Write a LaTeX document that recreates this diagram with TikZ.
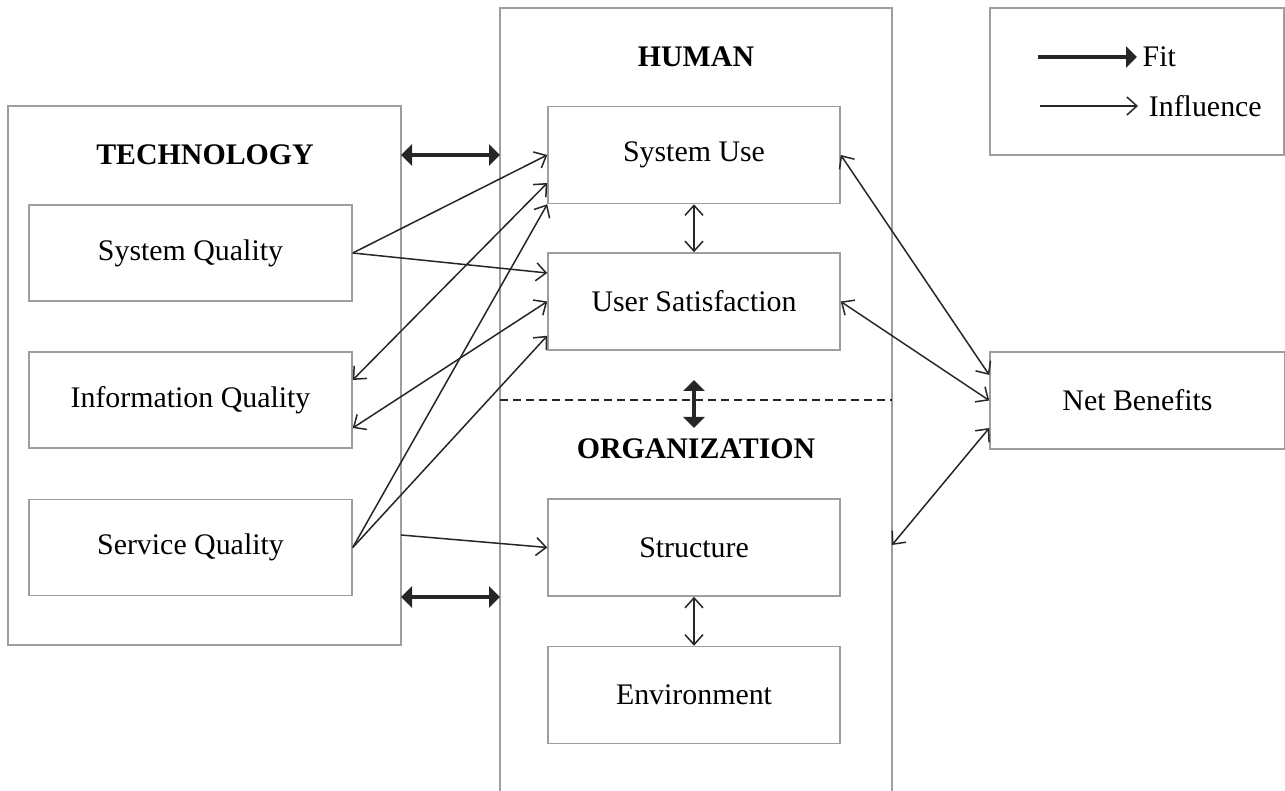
\documentclass[tikz,border=0pt]{standalone}
\usepackage{fontspec}
\setmainfont{Liberation Serif}
\usetikzlibrary{arrows.meta}

\definecolor{boxgray}{gray}{0.62}
\definecolor{ink}{gray}{0.15}

\begin{document}
\begin{tikzpicture}[x=0.2mm, y=-0.2mm,
    every node/.style={font=\fontsize{17}{20}\selectfont},
    frame/.style={draw=boxgray, line width=0.3mm},
    tbox/.style={frame, minimum width=64.6mm, minimum height=19.2mm},
    hbox/.style={frame, minimum width=58.4mm, minimum height=19.4mm},
    head/.style={font=\fontsize{17}{20}\selectfont\bfseries},
    infl/.style={draw=ink, line width=0.3mm, >={Straight Barb[length=2mm,width=3.6mm]}},
    fitline/.style={draw=ink, line width=0.75mm, >={Triangle[length=2.2mm,width=4.2mm]}}]
    \useasboundingbox (0, 0) rectangle (1285, 791);

    % technology
    \draw [frame] (8, 106) rectangle (401, 645);
    \node [head] (tech) at (205, 155) {TECHNOLOGY};
    \node [tbox] (sysq) at (190.5, 253) {System Quality};
    \node [tbox] (infq) at (190.5, 400) {Information Quality};
    \node [tbox] (servq) at (190.5, 547.5) {Service Quality};

    % human / organization
    \draw [frame] (500, 800) -- (500, 8) -- (892, 8) -- (892, 800);
    \node [head] (human) at (696, 57) {HUMAN};
    \node [hbox] (use) at (694, 155) {System Use};
    \node [hbox] (sat) at (694, 301.5) {User Satisfaction};
    \draw [ink, line width=0.4mm, dash pattern=on 1.6mm off 1mm] (500, 400) -- (892, 400);
    \node [head] (org) at (696, 449) {ORGANIZATION};
    \node [hbox] (struct) at (694, 547.5) {Structure};
    \node [hbox] (env) at (694, 695) {Environment};

    % net benefits
    \node [frame, minimum width=59mm, minimum height=19.4mm] (net) at (1137.5, 400.5) {Net Benefits};

    % legend
    \draw [frame] (990, 8) rectangle (1284, 155);
    \coordinate (fitA) at (1038, 57);
    \coordinate (inflA) at (1040, 106);
    \node [anchor=west, inner xsep=3pt] (fitlbl) at (1137, 57) {Fit};
    \node [anchor=west, inner xsep=6pt] (infllbl) at (1138, 106) {Influence};
    \draw [fitline, ->] (fitA) -- (fitlbl.west);
    \draw [infl, ->] (inflA) -- (infllbl.west);

    % free ends on the outer frames
    \coordinate (techR1) at (401, 155);
    \coordinate (humL1) at (500, 155);
    \coordinate (techR2) at (401, 597);
    \coordinate (humL2) at (500, 597);
    \coordinate (techR3) at (401, 535);
    \coordinate (humR) at (892, 545);
    \coordinate (orgT) at (694, 380);
    \coordinate (orgB) at (694, 428);

    % influence
    \draw [infl, ->] (sysq.east) -- (use.west);
    \draw [infl, ->] (sysq.east) -- ([yshift=5.7mm]sat.west);
    \draw [infl, <->] ([yshift=4mm]infq.east) -- ([yshift=-5.6mm]use.west);
    \draw [infl, <->] ([yshift=-5.6mm]infq.east) -- (sat.west);
    \draw [infl, ->] (servq.east) -- (use.south west);
    \draw [infl, ->] (servq.east) -- ([yshift=3mm]sat.south west);
    \draw [infl, ->] (techR3) -- (struct.west);
    \draw [infl, <->] (use) -- (sat);
    \draw [infl, <->] (struct) -- (env);
    \draw [infl, <->] (use.east) -- ([yshift=5.1mm]net.west);
    \draw [infl, <->] (sat.east) -- (net.west);
    \draw [infl, <->] ([yshift=-5.5mm]net.west) -- (humR);

    % fit
    \draw [fitline, <->] (techR1) -- (humL1);
    \draw [fitline, <->] (techR2) -- (humL2);
    \draw [fitline, <->] (orgT) -- (orgB);
\end{tikzpicture}
\end{document}
